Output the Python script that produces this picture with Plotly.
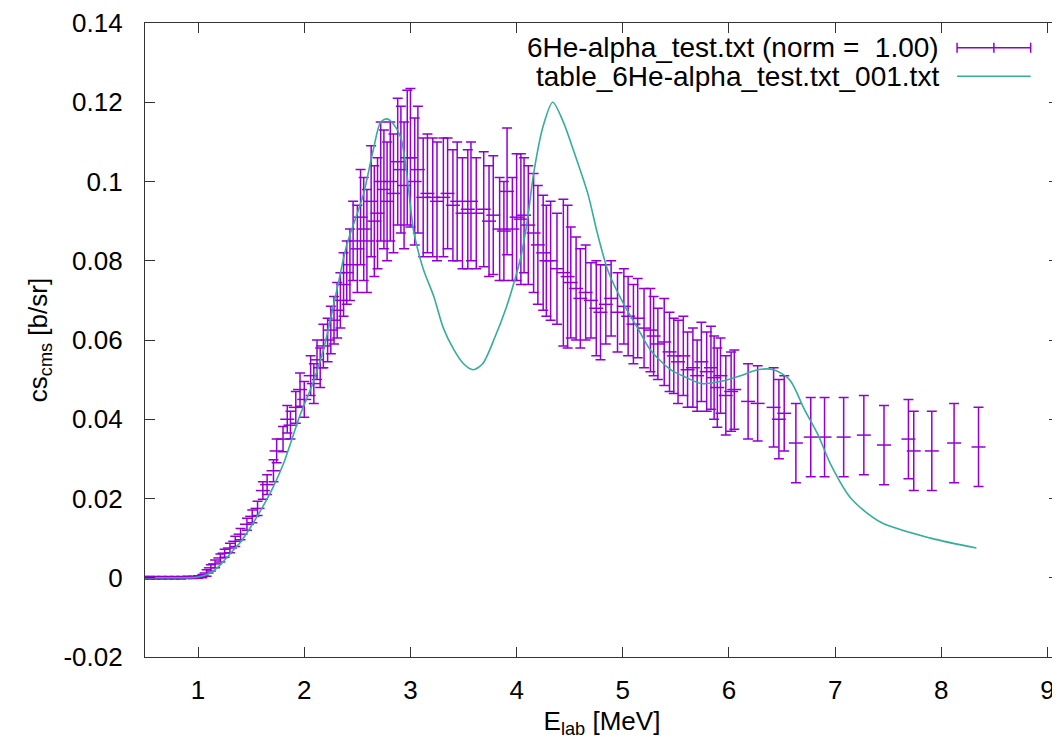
import plotly.graph_objects as go

# measured cross section (with errors)
e_lab = [0.50, 0.55, 0.60, 0.66, 0.72, 0.78, 0.84, 0.90, 0.95, 1.00, 1.04,
         1.08, 1.12, 1.16, 1.21, 1.25, 1.30, 1.35, 1.40, 1.46, 1.51, 1.56,
         1.61, 1.65, 1.71, 1.74, 1.80, 1.84, 1.87, 1.92, 1.96, 2.00, 2.06,
         2.09, 2.12, 2.15, 2.18, 2.22, 2.25, 2.28, 2.31, 2.34, 2.37, 2.40,
         2.43, 2.46, 2.50, 2.53, 2.56, 2.59, 2.63, 2.66, 2.69, 2.72, 2.75,
         2.78, 2.81, 2.84, 2.88, 2.91, 2.94, 2.97, 3.00, 3.04, 3.07, 3.12,
         3.16, 3.21, 3.25, 3.31, 3.35, 3.40, 3.44, 3.49, 3.54, 3.57, 3.62,
         3.69, 3.74, 3.78, 3.84, 3.88, 3.91, 3.96, 4.00, 4.04, 4.07, 4.11,
         4.16, 4.20, 4.25, 4.28, 4.32, 4.38, 4.44, 4.48, 4.51, 4.56, 4.60,
         4.65, 4.70, 4.75, 4.79, 4.84, 4.89, 4.95, 5.01, 5.05, 5.10, 5.14,
         5.20, 5.26, 5.29, 5.33, 5.39, 5.44, 5.48, 5.52, 5.57, 5.61, 5.66,
         5.70, 5.74, 5.79, 5.83, 5.86, 5.89, 5.92, 5.97, 6.02, 6.05, 6.18,
         6.27, 6.42, 6.47, 6.52, 6.63, 6.77, 6.90, 7.08, 7.27, 7.46, 7.69,
         7.74, 7.91, 8.12, 8.35]
cs = [0.0000, 0.0000, 0.0000, 0.0000, 0.0000, 0.0000, 0.0000, 0.0001, 0.0001,
      0.0002, 0.0004, 0.0012, 0.0025, 0.0035, 0.0050, 0.0062, 0.0075, 0.0092,
      0.0110, 0.0135, 0.0155, 0.0175, 0.0220, 0.0235, 0.0270, 0.0320, 0.0350,
      0.0400, 0.0385, 0.0430, 0.0475, 0.0450, 0.0510, 0.0490, 0.0550, 0.0530,
      0.0585, 0.0600, 0.0625, 0.0650, 0.0675, 0.0700, 0.0740, 0.0770, 0.0790,
      0.0850, 0.0830, 0.0910, 0.0880, 0.0850, 0.0950, 0.0900, 0.0920, 0.1000,
      0.0980, 0.0950, 0.1000, 0.0970, 0.1050, 0.1030, 0.0990, 0.1060, 0.1060,
      0.1000, 0.1030, 0.0960, 0.0970, 0.0960, 0.0950, 0.0960, 0.0970, 0.0940,
      0.0950, 0.0920, 0.0930, 0.0950, 0.0920, 0.0930, 0.0900, 0.0915, 0.0880,
      0.0875, 0.0975, 0.0880, 0.0910, 0.0905, 0.0915, 0.0890, 0.0870, 0.0840,
      0.0820, 0.0800, 0.0800, 0.0780, 0.0770, 0.0760, 0.0745, 0.0730, 0.0705,
      0.0720, 0.0700, 0.0680, 0.0670, 0.0690, 0.0705, 0.0670, 0.0685, 0.0660,
      0.0640, 0.0655, 0.0630, 0.0625, 0.0610, 0.0590, 0.0595, 0.0570, 0.0560,
      0.0545, 0.0560, 0.0525, 0.0530, 0.0510, 0.0545, 0.0520, 0.0530, 0.0505,
      0.0480, 0.0510, 0.0460, 0.0470, 0.0475, 0.0445, 0.0440, 0.0430, 0.0400,
      0.0415, 0.0340, 0.0355, 0.0355, 0.0355, 0.0360, 0.0335, 0.0350, 0.0320,
      0.0320, 0.0340, 0.0330]
cs_err = [0.0003, 0.0003, 0.0003, 0.0003, 0.0003, 0.0003, 0.0003, 0.0003,
          0.0003, 0.0003, 0.0004, 0.0008, 0.0008, 0.0010, 0.0010, 0.0010,
          0.0012, 0.0013, 0.0014, 0.0015, 0.0016, 0.0018, 0.0022, 0.0025,
          0.0028, 0.0030, 0.0032, 0.0035, 0.0035, 0.0040, 0.0042, 0.0045,
          0.0050, 0.0050, 0.0050, 0.0050, 0.0055, 0.0055, 0.0060, 0.0060,
          0.0070, 0.0070, 0.0080, 0.0080, 0.0090, 0.0100, 0.0110, 0.0120,
          0.0130, 0.0130, 0.0140, 0.0140, 0.0140, 0.0150, 0.0150, 0.0150,
          0.0150, 0.0150, 0.0160, 0.0160, 0.0160, 0.0170, 0.0175, 0.0160,
          0.0160, 0.0150, 0.0150, 0.0150, 0.0150, 0.0150, 0.0140, 0.0140,
          0.0150, 0.0140, 0.0150, 0.0150, 0.0140, 0.0145, 0.0140, 0.0150,
          0.0130, 0.0125, 0.0160, 0.0130, 0.0160, 0.0165, 0.0145, 0.0150,
          0.0150, 0.0150, 0.0145, 0.0140, 0.0150, 0.0140, 0.0185, 0.0180,
          0.0140, 0.0130, 0.0125, 0.0120, 0.0095, 0.0120, 0.0120, 0.0100,
          0.0095, 0.0100, 0.0095, 0.0100, 0.0100, 0.0100, 0.0100, 0.0105,
          0.0100, 0.0090, 0.0110, 0.0100, 0.0095, 0.0105, 0.0100, 0.0095,
          0.0100, 0.0090, 0.0100, 0.0100, 0.0105, 0.0105, 0.0100, 0.0095,
          0.0100, 0.0100, 0.0100, 0.0095, 0.0095, 0.0100, 0.0100, 0.0095,
          0.0100, 0.0100, 0.0100, 0.0100, 0.0100, 0.0100, 0.0100, 0.0100,
          0.0100, 0.0100, 0.0100]

# calculated table
e_calc = [0.50, 0.70, 0.90, 1.00, 1.10, 1.20, 1.30, 1.40, 1.50, 1.60, 1.70,
          1.80, 1.96, 2.08, 2.18, 2.31, 2.40, 2.50, 2.56, 2.65, 2.72, 2.78,
          2.84, 2.91, 2.97, 3.03, 3.12, 3.22, 3.31, 3.41, 3.50, 3.59, 3.68,
          3.80, 3.90, 3.97, 4.04, 4.10, 4.16, 4.25, 4.34, 4.44, 4.54, 4.67,
          4.76, 4.86, 5.01, 5.14, 5.26, 5.45, 5.60, 5.74, 5.95, 6.11, 6.27,
          6.42, 6.57, 6.71, 6.84, 6.96, 7.15, 7.43, 7.90, 8.33]
cs_calc = [0.0000, 0.0000, 0.0000, 0.0002, 0.0010, 0.0030, 0.0060, 0.0090,
           0.0130, 0.0175, 0.0225, 0.0285, 0.0410, 0.0490, 0.0575, 0.0730,
           0.0840, 0.0920, 0.0970, 0.1080, 0.1150, 0.1158, 0.1145, 0.1110,
           0.1010, 0.0875, 0.0780, 0.0710, 0.0630, 0.0575, 0.0540, 0.0525,
           0.0540, 0.0610, 0.0680, 0.0740, 0.0810, 0.0900, 0.1020, 0.1140,
           0.1200, 0.1150, 0.1075, 0.0970, 0.0870, 0.0775, 0.0690, 0.0630,
           0.0575, 0.0525, 0.0505, 0.0490, 0.0497, 0.0510, 0.0525, 0.0525,
           0.0500, 0.0425, 0.0360, 0.0285, 0.0200, 0.0140, 0.0100, 0.0075]

y_ticks = [-0.02, 0, 0.02, 0.04, 0.06, 0.08, 0.1, 0.12, 0.14]
y_tick_text = ["-0.02", "0", "0.02", "0.04", "0.06", "0.08", "0.1", "0.12",
               "0.14"]
x_ticks = [1, 2, 3, 4, 5, 6, 7, 8, 9]

exp_label = "6He-alpha_test.txt (norm =  1.00)"
calc_label = "table_6He-alpha_test.txt_001.txt"

violet = "#9400d3"
teal = "#35ad9c"
font = "Liberation Sans, Arial, sans-serif"

fig = go.Figure()
fig.add_trace(go.Scatter(
    x=e_lab, y=cs, mode="markers", name=exp_label,
    marker=dict(symbol="line-ew", size=10, color=violet,
                line=dict(color=violet, width=1.5)),
    error_y=dict(type="data", array=cs_err, color=violet,
                 thickness=1.5, width=5),
    showlegend=False))
fig.add_trace(go.Scatter(
    x=e_calc, y=cs_calc, mode="lines", name=calc_label,
    line=dict(color=teal, width=1.6, shape="spline", smoothing=0.8),
    showlegend=False))

# gnuplot-style key: text right-justified, sample on the right
key_x_text = 0.871
key_x0, key_x1 = 0.8885, 0.969
key_y = [0.961, 0.916]
for lbl, yy in zip([exp_label, calc_label], key_y):
    fig.add_annotation(x=key_x_text, y=yy, xref="paper", yref="paper",
                       text=lbl, showarrow=False, xanchor="right",
                       yanchor="middle", font=dict(size=28, color="black"))
fig.add_shape(type="line", xref="paper", yref="paper", x0=key_x0, x1=key_x1,
              y0=key_y[0], y1=key_y[0], line=dict(color=violet, width=1.5))
for xx in [key_x0, (key_x0 + key_x1) / 2, key_x1]:
    fig.add_shape(type="line", xref="paper", yref="paper", x0=xx, x1=xx,
                  y0=key_y[0] - 0.008, y1=key_y[0] + 0.008,
                  line=dict(color=violet, width=1.5))
fig.add_shape(type="line", xref="paper", yref="paper", x0=key_x0, x1=key_x1,
              y0=key_y[1], y1=key_y[1], line=dict(color=teal, width=1.6))

axis_common = dict(showline=True, linecolor="#333333", linewidth=1.2,
                   mirror="ticks", ticks="inside", ticklen=10,
                   tickcolor="#333333", tickwidth=1.2, showgrid=False,
                   zeroline=False, ticklabeloverflow="allow",
                   tickfont=dict(size=26, color="black"))

fig.update_xaxes(range=[0.5, 9.108], tickvals=x_ticks,
                 ticklabelstandoff=10,
                 title=dict(text="E<sub>lab</sub> [MeV]",
                            font=dict(size=26, color="black"), standoff=7),
                 **axis_common)
fig.update_yaxes(range=[-0.02000001, 0.14000001],
                 tickvals=y_ticks, ticktext=y_tick_text,
                 ticklabelstandoff=16,
                 title=dict(text="cs<sub>cms</sub> [b/sr]",
                            font=dict(size=26, color="black"), standoff=8),
                 **axis_common)

# the page body adds an 8px offset, so the figure is sized to compensate
fig.update_layout(
    width=1052, height=733,
    margin=dict(l=137, r=0, t=9, b=84),
    paper_bgcolor="white", plot_bgcolor="white",
    font=dict(family=font, size=26, color="black"),
)

fig.write_html("out.html")
